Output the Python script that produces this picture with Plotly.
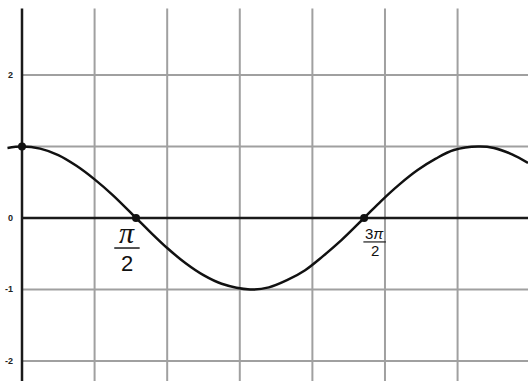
import plotly.graph_objects as go

# Curve points (x in radians, y value)
curve_x = [-0.20, 0.0, 0.25, 0.5, 0.75, 1.0, 1.25, 1.5708, 1.75, 2.0, 2.25, 2.5, 2.75, 3.1416,
           3.4, 3.65, 3.9, 4.15, 4.4, 4.7124, 4.95, 5.2, 5.45, 5.7, 5.95, 6.2832, 6.5, 6.75, 6.97]
curve_y = [0.98, 1.00, 0.97, 0.88, 0.73, 0.54, 0.32, 0.00, -0.18, -0.42, -0.63, -0.80, -0.92, -1.00,
           -0.97, -0.87, -0.73, -0.53, -0.31, 0.00, 0.24, 0.47, 0.67, 0.83, 0.95, 1.00, 0.98, 0.89, 0.77]

# Highlighted points
point_x = [0.0, 1.5708, 4.7124]
point_y = [1.0, 0.0, 0.0]

# Grid / tick values
x_grid = [1, 2, 3, 4, 5, 6, 7]
y_grid = [2, 1, -1, -2]
y_tick_vals = [2, 0, -1, -2]
y_tick_text = ["2", "0", "-1", "-2"]

X_RANGE = [-0.303, 6.97]
Y_RANGE = [-2.28, 3.049]
GRID_TOP = 2.93

fig = go.Figure()

shapes = []
for gx in x_grid:
    shapes.append(dict(type="line", xref="x", yref="y", x0=gx, x1=gx, y0=Y_RANGE[0], y1=GRID_TOP,
                       line=dict(color="#a0a0a0", width=2), layer="below"))
for gy in y_grid:
    shapes.append(dict(type="line", xref="x", yref="y", x0=0, x1=X_RANGE[1], y0=gy, y1=gy,
                       line=dict(color="#a0a0a0", width=2), layer="below"))
# axes
shapes.append(dict(type="line", xref="x", yref="y", x0=0, x1=0, y0=Y_RANGE[0], y1=GRID_TOP,
                   line=dict(color="#1a1a1a", width=2.5), layer="below"))
shapes.append(dict(type="line", xref="x", yref="y", x0=0, x1=X_RANGE[1], y0=0, y1=0,
                   line=dict(color="#1a1a1a", width=2.5), layer="below"))

# fraction bars for labels
p2, p32 = point_x[1], point_x[2]
shapes.append(dict(type="line", xref="x", yref="y", x0=p2 - 0.30, x1=p2 + 0.05, y0=-0.42, y1=-0.42,
                   line=dict(color="#1a1a1a", width=1.5)))
shapes.append(dict(type="line", xref="x", yref="y", x0=p32 - 0.01, x1=p32 + 0.30, y0=-0.335, y1=-0.335,
                   line=dict(color="#1a1a1a", width=1.2)))

fig.add_trace(go.Scatter(x=curve_x, y=curve_y, mode="lines",
                         line=dict(color="#111111", width=2.5, shape="spline", smoothing=1.0),
                         hoverinfo="skip", showlegend=False))
fig.add_trace(go.Scatter(x=point_x, y=point_y, mode="markers",
                         marker=dict(color="#111111", size=8), showlegend=False))

annotations = []
for v, t in zip(y_tick_vals, y_tick_text):
    annotations.append(dict(x=-0.09, y=v, xref="x", yref="y", text="<b>" + t + "</b>",
                            showarrow=False, xanchor="right", yanchor="middle",
                            font=dict(family="Liberation Sans", size=9, color="#222")))

annotations.append(dict(x=p2 - 0.12, y=-0.20, xref="x", yref="y", text="<i>π</i>", showarrow=False,
                        xanchor="center", yanchor="middle",
                        font=dict(family="Liberation Serif", size=30, color="#111")))
annotations.append(dict(x=p2 - 0.12, y=-0.63, xref="x", yref="y", text="2", showarrow=False,
                        xanchor="center", yanchor="middle",
                        font=dict(family="Liberation Sans", size=22, color="#111")))
annotations.append(dict(x=p32 + 0.15, y=-0.21, xref="x", yref="y", text="3<i>π</i>", showarrow=False,
                        xanchor="center", yanchor="middle",
                        font=dict(family="Liberation Sans", size=15, color="#111")))
annotations.append(dict(x=p32 + 0.15, y=-0.46, xref="x", yref="y", text="2", showarrow=False,
                        xanchor="center", yanchor="middle",
                        font=dict(family="Liberation Sans", size=15, color="#111")))

fig.update_layout(
    width=528, height=381,
    margin=dict(l=0, r=0, t=0, b=0),
    paper_bgcolor="white", plot_bgcolor="white",
    xaxis=dict(range=X_RANGE, showgrid=False, zeroline=False, showticklabels=False, ticks=""),
    yaxis=dict(range=Y_RANGE, showgrid=False, zeroline=False, showticklabels=False, ticks=""),
    shapes=shapes, annotations=annotations, showlegend=False,
)

fig.write_html("out.html", config={"displayModeBar": False},
               post_script="document.body.style.margin='0';document.body.style.overflow='hidden';")
